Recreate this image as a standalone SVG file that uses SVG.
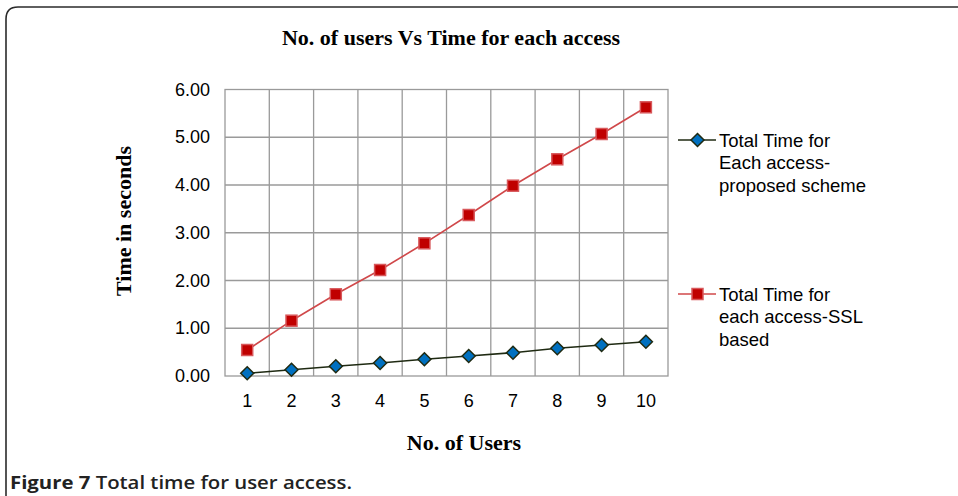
<svg xmlns="http://www.w3.org/2000/svg" width="958" height="496" viewBox="0 0 958 496">
  <defs>
    <style>
      .serif { font-family: "Liberation Serif", "Times New Roman", serif; font-weight: bold; font-size: 22px; fill: #000; }
      .tick { font-family: "Liberation Sans", Arial, sans-serif; font-size: 18px; fill: #000; }
      .legend { font-family: "Liberation Sans", Arial, sans-serif; font-size: 18.5px; fill: #000; }
      .caption { font-family: "Open Sans", "Noto Sans", sans-serif; font-size: 18px; fill: #222; }
      .grid { stroke: #9a9a9a; stroke-width: 1.3; fill: none; }
      .ssl { stroke: #d0484a; stroke-width: 1.6; fill: none; }
      .prop { stroke: #1f2a12; stroke-width: 1.6; fill: none; }
    </style>
    <rect id="sq" x="-5.5" y="-5.5" width="11" height="11" fill="#c00000" stroke="#d8585b" stroke-width="1.5"/>
    <path id="dia" d="M0,-6.5 L6.5,0 L0,6.5 L-6.5,0 Z" fill="#0070c0" stroke="#1f2a12" stroke-width="1.5"/>
  </defs>

  <rect width="958" height="496" fill="#fff"/>

  <!-- figure frame: rounded top-left corner, open at right and bottom -->
  <path d="M6,500 L6,19 Q6,7 18,7 L962,7" fill="none" stroke="#2b2b2b" stroke-width="1.6"/>

  <!-- chart title -->
  <text class="serif" x="451" y="45" text-anchor="middle">No. of users Vs Time for each access</text>

  <!-- plot grid -->
  <g id="grid">
    <rect class="grid" x="225" y="89.5" width="443" height="286.5"/>
    <path class="grid" d="M269.3,89.5V376 M313.6,89.5V376 M357.9,89.5V376 M402.2,89.5V376 M446.5,89.5V376 M490.8,89.5V376 M535.1,89.5V376 M579.4,89.5V376 M623.7,89.5V376"/>
    <path class="grid" d="M225,137.25H668 M225,185H668 M225,232.75H668 M225,280.5H668 M225,328.25H668"/>
  </g>

  <!-- y axis -->
  <g id="y-axis" class="tick" text-anchor="end">
    <text x="210" y="95.5">6.00</text>
    <text x="210" y="143.3">5.00</text>
    <text x="210" y="191">4.00</text>
    <text x="210" y="238.8">3.00</text>
    <text x="210" y="286.5">2.00</text>
    <text x="210" y="334.3">1.00</text>
    <text x="210" y="382">0.00</text>
  </g>
  <text class="serif" transform="translate(131,221) rotate(-90)" text-anchor="middle">Time in seconds</text>

  <!-- x axis -->
  <g id="x-axis" class="tick" text-anchor="middle">
    <text x="247.2" y="407">1</text>
    <text x="291.5" y="407">2</text>
    <text x="335.8" y="407">3</text>
    <text x="380.1" y="407">4</text>
    <text x="424.4" y="407">5</text>
    <text x="468.7" y="407">6</text>
    <text x="513" y="407">7</text>
    <text x="557.3" y="407">8</text>
    <text x="601.6" y="407">9</text>
    <text x="645.9" y="407">10</text>
  </g>
  <text class="serif" x="464" y="450" text-anchor="middle">No. of Users</text>

  <!-- series lines -->
  <g id="connectors">
    <polyline class="ssl" points="247.2,350 291.5,320.7 335.8,294.3 380.1,270 424.4,243.3 468.7,215 513,185.7 557.3,159.3 601.6,134 645.9,107.3"/>
    <polyline class="prop" points="247.2,373.3 291.5,369.7 335.8,366.3 380.1,363 424.4,359.3 468.7,356 513,352.7 557.3,348.3 601.6,345 645.9,341.7"/>
    <line class="prop" x1="678" y1="140" x2="716" y2="140"/>
    <line class="ssl" x1="678" y1="294" x2="716" y2="294"/>
  </g>

  <!-- SSL based series markers -->
  <g id="series-ssl">
    <use href="#sq" x="247.2" y="350"/>
    <use href="#sq" x="291.5" y="320.7"/>
    <use href="#sq" x="335.8" y="294.3"/>
    <use href="#sq" x="380.1" y="270"/>
    <use href="#sq" x="424.4" y="243.3"/>
    <use href="#sq" x="468.7" y="215"/>
    <use href="#sq" x="513" y="185.7"/>
    <use href="#sq" x="557.3" y="159.3"/>
    <use href="#sq" x="601.6" y="134"/>
    <use href="#sq" x="645.9" y="107.3"/>
  </g>

  <!-- proposed scheme series markers -->
  <g id="series-proposed">
    <use href="#dia" x="247.2" y="373.3"/>
    <use href="#dia" x="291.5" y="369.7"/>
    <use href="#dia" x="335.8" y="366.3"/>
    <use href="#dia" x="380.1" y="363"/>
    <use href="#dia" x="424.4" y="359.3"/>
    <use href="#dia" x="468.7" y="356"/>
    <use href="#dia" x="513" y="352.7"/>
    <use href="#dia" x="557.3" y="348.3"/>
    <use href="#dia" x="601.6" y="345"/>
    <use href="#dia" x="645.9" y="341.7"/>
  </g>

  <!-- legend -->
  <g id="legend-proposed">
    <use href="#dia" x="697.5" y="140"/>
    <text class="legend" x="719" y="146.5">Total Time for</text>
    <text class="legend" x="719" y="169">Each access-</text>
    <text class="legend" x="719" y="191.5">proposed scheme</text>
  </g>
  <g id="legend-ssl">
    <use href="#sq" x="697.5" y="294"/>
    <text class="legend" x="719" y="300.5">Total Time for</text>
    <text class="legend" x="719" y="323">each access-SSL</text>
    <text class="legend" x="719" y="345.5">based</text>
  </g>

  <!-- figure caption -->
  <text class="caption" x="10" y="489" textLength="342" lengthAdjust="spacingAndGlyphs"><tspan font-weight="bold">Figure 7</tspan><tspan font-weight="600"> Total time for user access.</tspan></text>
</svg>
